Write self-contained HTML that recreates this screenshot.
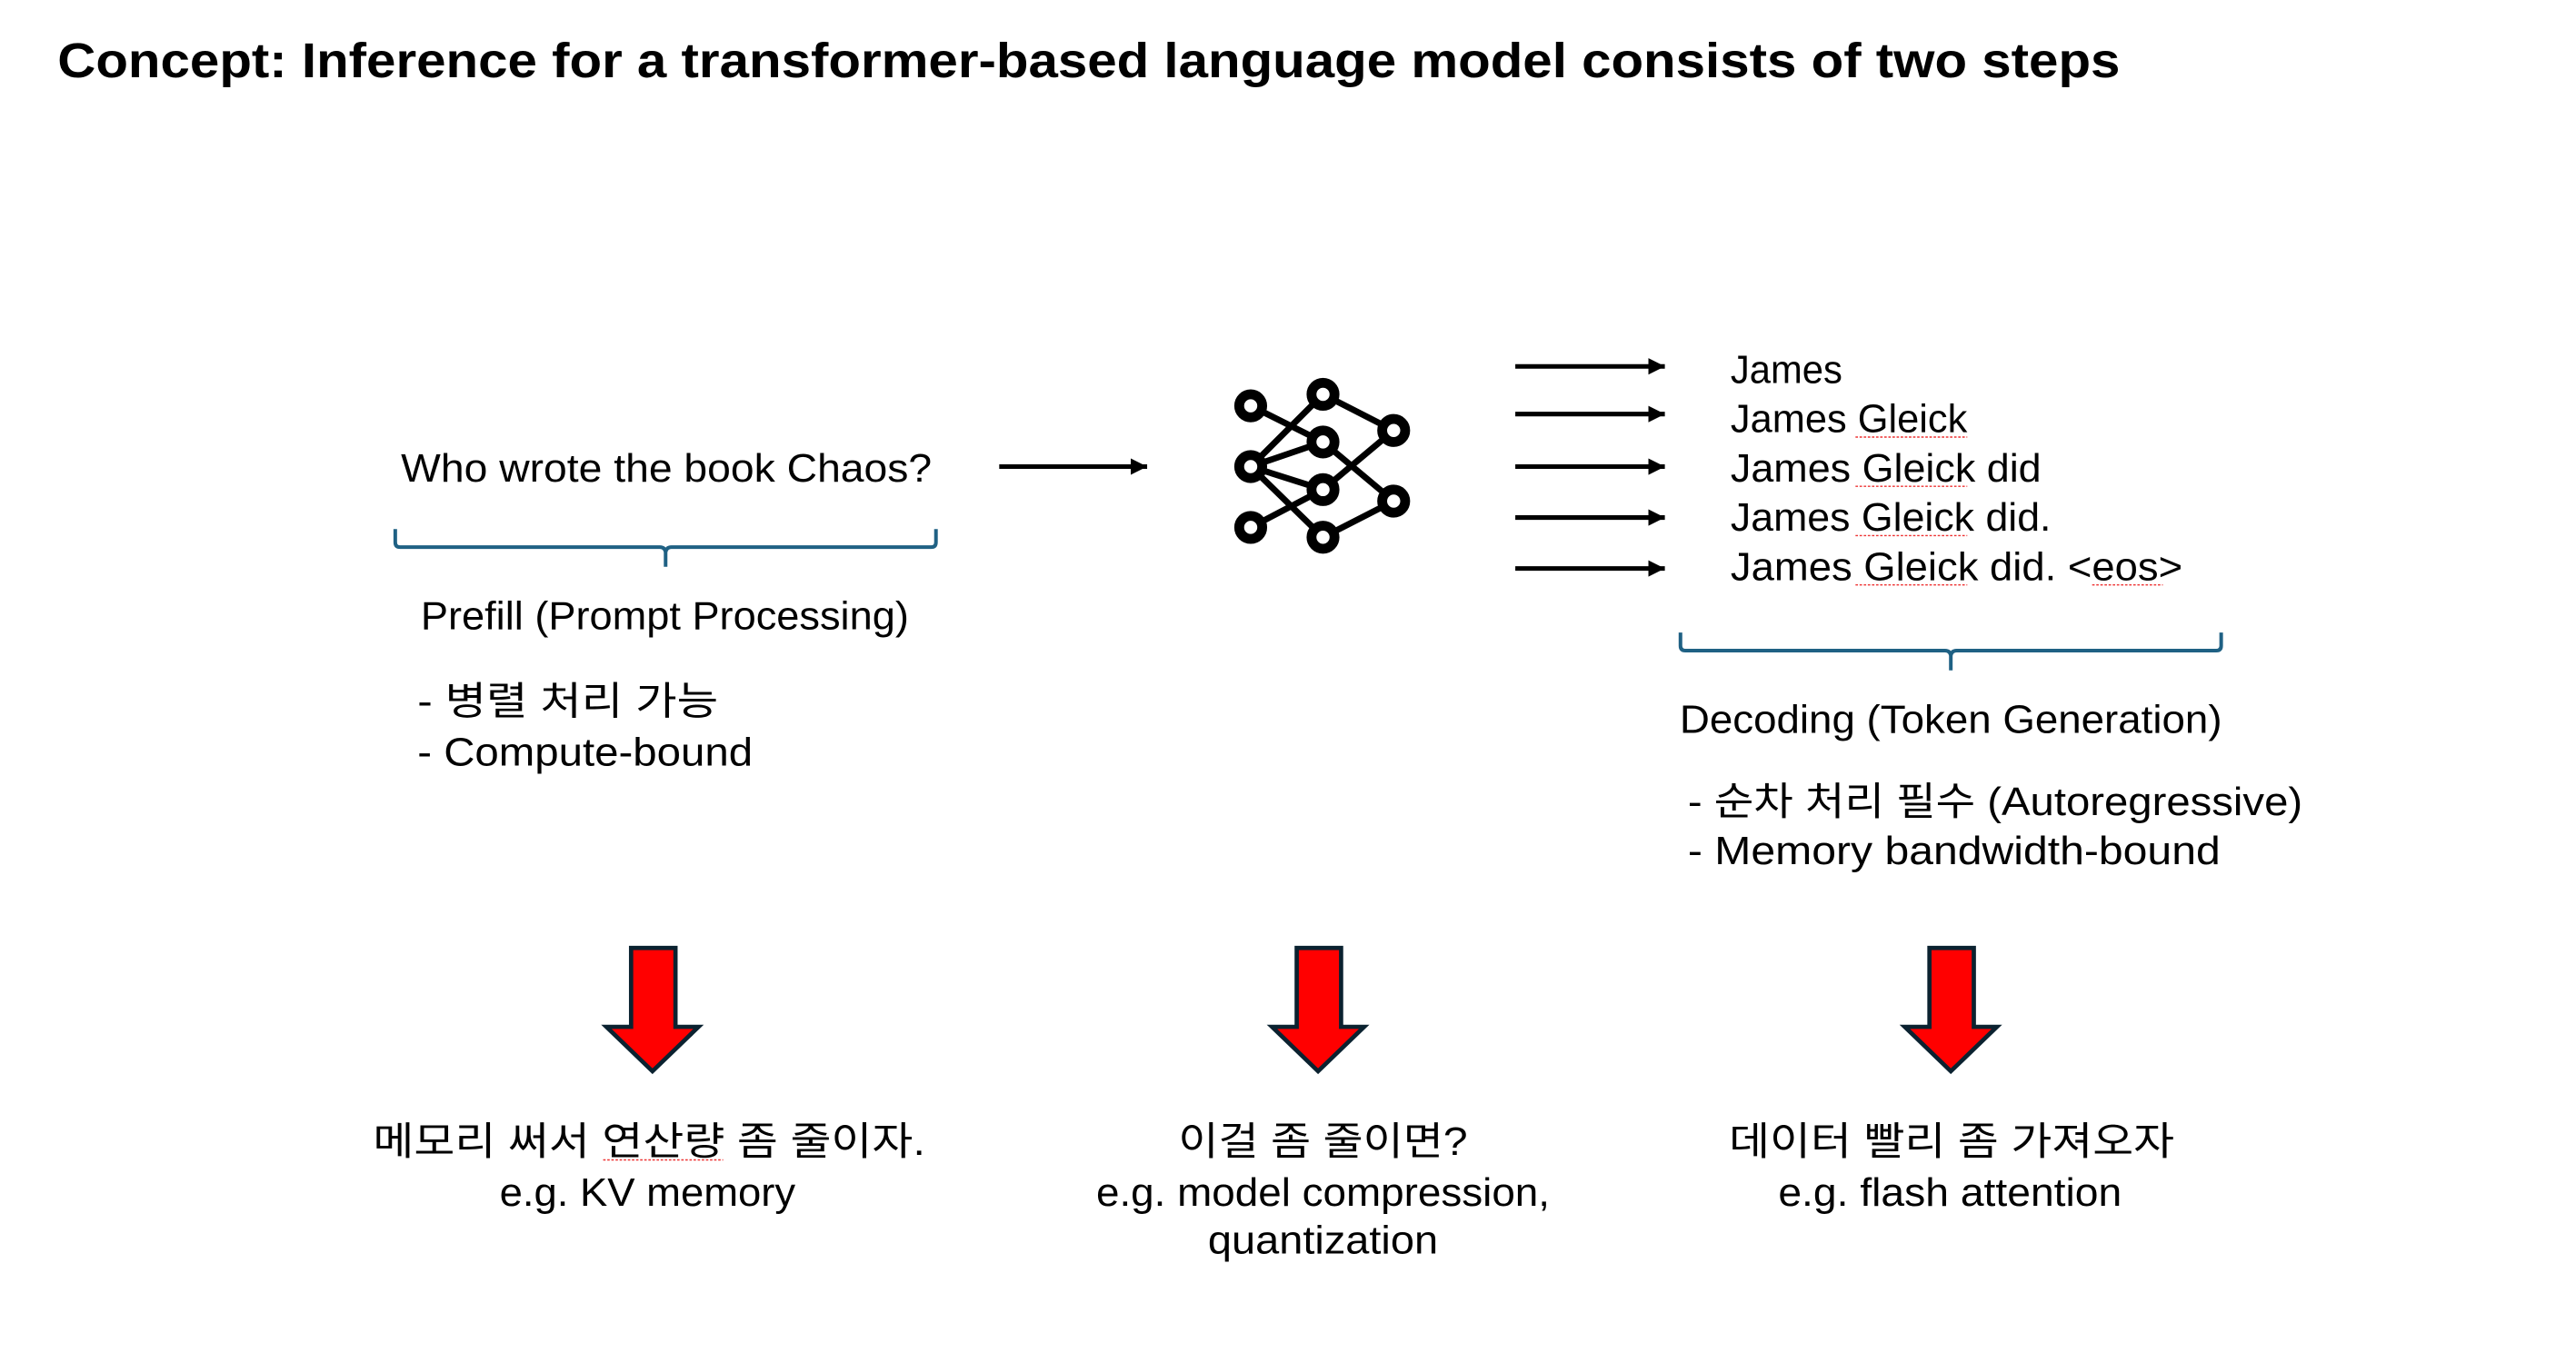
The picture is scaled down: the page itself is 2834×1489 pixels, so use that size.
<!DOCTYPE html>
<html><head><meta charset="utf-8"><style>
html,body{margin:0;padding:0;background:#fff;width:2834px;height:1489px;overflow:hidden}
svg text{font-family:"Liberation Sans","Noto Sans CJK KR",sans-serif;fill:#000}
</style></head><body>
<svg width="2834" height="1489" viewBox="0 0 1567.4 823.5" xmlns="http://www.w3.org/2000/svg">
<defs>
<marker id="ah" viewBox="0 0 10 10" refX="10" refY="5" markerWidth="3.6" markerHeight="5.6" orient="auto" markerUnits="strokeWidth"><path d="M0,0 L10,5 L0,10 z" fill="#000"/></marker>
</defs>
<text x="35" y="47" font-size="30" font-weight="bold" textLength="1255" lengthAdjust="spacingAndGlyphs">Concept: Inference for a transformer-based language model consists of two steps</text>

<text x="244" y="293" font-size="24" textLength="323" lengthAdjust="spacingAndGlyphs">Who wrote the book Chaos?</text>
<path d="M240.5,322 v8 q0,3 3,3 h158 q3,0 3.5,3 v9 M405,336 q0.5,-3 3.5,-3 h158 q3,0 3,-3 v-8" fill="none" stroke="#1f6184" stroke-width="2.2"/>
<text x="256" y="383" font-size="24" textLength="297" lengthAdjust="spacingAndGlyphs">Prefill (Prompt Processing)</text>
<text x="254" y="435" font-size="24" textLength="183" lengthAdjust="spacingAndGlyphs">- 병렬 처리 가능</text>
<text x="254" y="466" font-size="24" textLength="204" lengthAdjust="spacingAndGlyphs">- Compute-bound</text>

<line x1="608" y1="284" x2="698" y2="284" stroke="#000" stroke-width="2.8" marker-end="url(#ah)"/>

<g stroke="#000" stroke-width="3.8" fill="none">
<line x1="761" y1="247" x2="805" y2="269"/>
<line x1="761" y1="284" x2="805" y2="240"/>
<line x1="761" y1="284" x2="805" y2="269"/>
<line x1="761" y1="284" x2="805" y2="298"/>
<line x1="761" y1="284" x2="805" y2="327"/>
<line x1="761" y1="321" x2="805" y2="298"/>
<line x1="805" y1="240" x2="848" y2="262"/>
<line x1="805" y1="269" x2="848" y2="305"/>
<line x1="805" y1="298" x2="848" y2="262"/>
<line x1="805" y1="327" x2="848" y2="305"/>
</g>
<g stroke="#000" stroke-width="6" fill="#fff">
<circle cx="761" cy="247" r="7"/><circle cx="761" cy="284" r="7"/><circle cx="761" cy="321" r="7"/>
<circle cx="805" cy="240" r="7"/><circle cx="805" cy="269" r="7"/><circle cx="805" cy="298" r="7"/><circle cx="805" cy="327" r="7"/>
<circle cx="848" cy="262" r="7"/><circle cx="848" cy="305" r="7"/>
</g>

<g stroke="#000" stroke-width="2.8">
<line x1="922" y1="223" x2="1013" y2="223" marker-end="url(#ah)"/>
<line x1="922" y1="252" x2="1013" y2="252" marker-end="url(#ah)"/>
<line x1="922" y1="284" x2="1013" y2="284" marker-end="url(#ah)"/>
<line x1="922" y1="315" x2="1013" y2="315" marker-end="url(#ah)"/>
<line x1="922" y1="346" x2="1013" y2="346" marker-end="url(#ah)"/>
</g>
<text x="1053" y="233" font-size="24" textLength="68" lengthAdjust="spacingAndGlyphs">James</text>
<text x="1053" y="263" font-size="24" textLength="144" lengthAdjust="spacingAndGlyphs">James Gleick</text>
<text x="1053" y="293" font-size="24" textLength="189" lengthAdjust="spacingAndGlyphs">James Gleick did</text>
<text x="1053" y="323" font-size="24" textLength="195" lengthAdjust="spacingAndGlyphs">James Gleick did.</text>
<text x="1053" y="353" font-size="24" textLength="275" lengthAdjust="spacingAndGlyphs">James Gleick did. &lt;eos&gt;</text>
<g stroke="#e33" stroke-width="0.8" stroke-dasharray="1.5 1" fill="none">
<line x1="1129" y1="266" x2="1197" y2="266"/>
<line x1="1129" y1="296" x2="1197" y2="296"/>
<line x1="1129" y1="326" x2="1197" y2="326"/>
<line x1="1129" y1="356" x2="1197" y2="356"/>
<line x1="1273" y1="356" x2="1316" y2="356"/>
<line x1="367" y1="706" x2="440" y2="706"/>
</g>

<path d="M1022.5,385 v8 q0,3 3,3 h158 q3,0 3.5,3 v9 M1187,399 q0.5,-3 3.5,-3 h158 q3,0 3,-3 v-8" fill="none" stroke="#1f6184" stroke-width="2.2"/>
<text x="1022" y="446" font-size="24" textLength="330" lengthAdjust="spacingAndGlyphs">Decoding (Token Generation)</text>
<text x="1027" y="496" font-size="24" textLength="374" lengthAdjust="spacingAndGlyphs">- 순차 처리 필수 (Autoregressive)</text>
<text x="1027" y="526" font-size="24" textLength="324" lengthAdjust="spacingAndGlyphs">- Memory bandwidth-bound</text>

<g fill="#ff0000" stroke="#0b2230" stroke-width="2.6" stroke-linejoin="miter">
<path d="M384,577 h27 v48 h14 l-28,27 l-28,-27 h15 z"/>
<path d="M789,577 h27 v48 h14 l-28,27 l-28,-27 h15 z"/>
<path d="M1174,577 h27 v48 h14 l-28,27 l-28,-27 h15 z"/>
</g>

<text x="227" y="703" font-size="24" textLength="336" lengthAdjust="spacingAndGlyphs">메모리 써서 연산량 좀 줄이자.</text>
<text x="304" y="734" font-size="24" textLength="180" lengthAdjust="spacingAndGlyphs">e.g. KV memory</text>
<text x="717" y="703" font-size="24" textLength="176" lengthAdjust="spacingAndGlyphs">이걸 좀 줄이면?</text>
<text x="667" y="734" font-size="24" textLength="276" lengthAdjust="spacingAndGlyphs">e.g. model compression,</text>
<text x="735" y="763" font-size="24" textLength="140" lengthAdjust="spacingAndGlyphs">quantization</text>
<text x="1052" y="703" font-size="24" textLength="271" lengthAdjust="spacingAndGlyphs">데이터 빨리 좀 가져오자</text>
<text x="1082" y="734" font-size="24" textLength="209" lengthAdjust="spacingAndGlyphs">e.g. flash attention</text>
</svg>
</body></html>
